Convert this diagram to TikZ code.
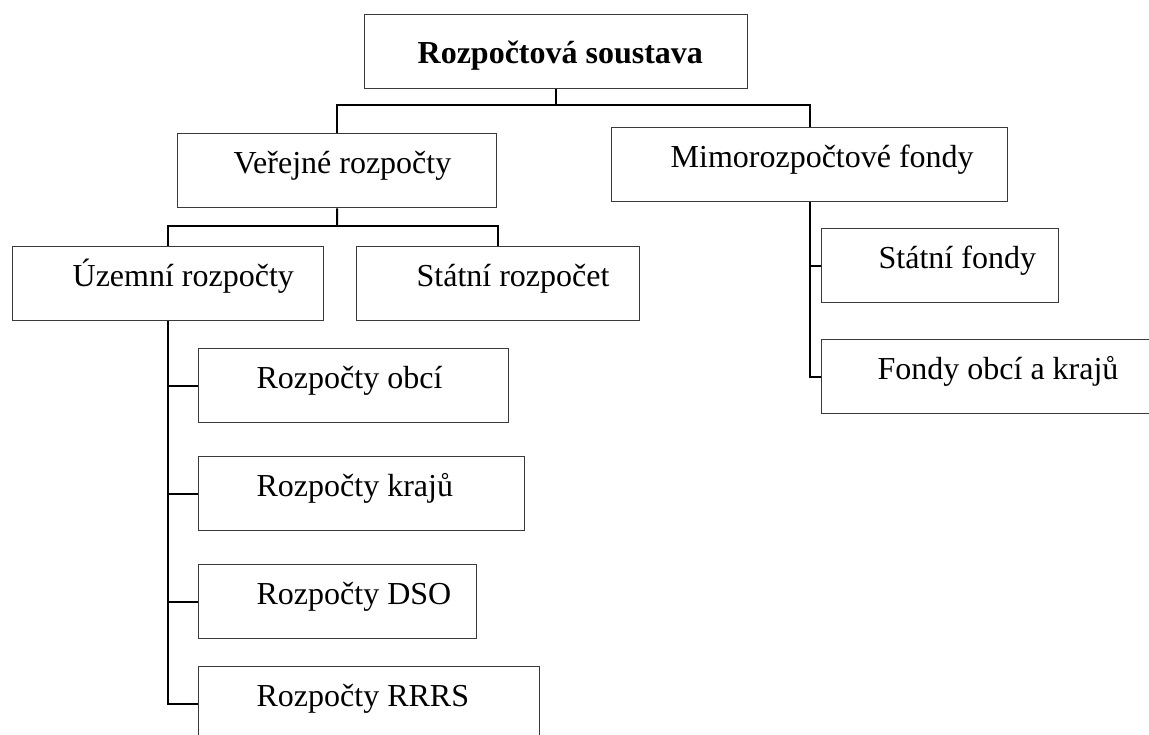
\documentclass[tikz,border=0pt]{standalone}
\usepackage{fontspec}
\setmainfont{Liberation Serif}
\definecolor{boxgray}{HTML}{3A3A3A}
\newcommand\bxtext[3]{\makebox[#1pt][l]{\hspace{#2pt}#3}}
\begin{document}
\begin{tikzpicture}[x=1pt,y=-1pt,
  box/.style={draw=boxgray, line width=1.3pt, inner sep=0pt, anchor=north west,
    text height=40pt, text depth=34pt, font=\fontsize{32}{38}\selectfont},
  titlebox/.style={box, text height=49pt, text depth=25pt, font=\fontsize{32}{38}\selectfont\bfseries},
  conn/.style={draw=black, line width=2pt}]
\useasboundingbox (0,0) rectangle (1149,735);

\node[titlebox] (top) at (364,14) {\bxtext{383}{53}{Rozpočtová soustava}};
\node[box] (ver) at (177,133) {\bxtext{319}{56}{Veřejné rozpočty}};
\node[box] (mimo) at (611,127) {\bxtext{396}{59}{Mimorozpočtové fondy}};
\node[box] (uz) at (12,246) {\bxtext{311}{60}{Územní rozpočty}};
\node[box] (sr) at (356,246) {\bxtext{283}{60}{Státní rozpočet}};
\node[box] (sf) at (821,228) {\bxtext{237}{57}{Státní fondy}};
\node[box] (fo) at (821,339) {\bxtext{334}{56}{Fondy obcí a krajů}};
\node[box] (obci) at (198,348) {\bxtext{310}{58}{Rozpočty obcí}};
\node[box] (kraju) at (198,456) {\bxtext{326}{58}{Rozpočty krajů}};
\node[box] (dso) at (198,564) {\bxtext{278}{58}{Rozpočty DSO}};
\node[box] (rrrs) at (198,666) {\bxtext{341}{58}{Rozpočty RRRS}};

\coordinate (j1) at (557,105);
\coordinate (j2) at (337,226);

\draw[conn] (top.south) -- (top.south |- j1);
\draw[conn] (ver.north) |- (j1) -| (mimo.north);
\draw[conn] (ver.south) -- (j2);
\draw[conn] (uz.north) |- (j2) -| (sr.north);
\draw[conn] (uz.south) |- (obci.west);
\draw[conn] (uz.south) |- (kraju.west);
\draw[conn] (uz.south) |- (dso.west);
\draw[conn] (uz.south) |- (rrrs.west);
\draw[conn] (mimo.south) |- (sf.west);
\draw[conn] (mimo.south) |- (fo.west);
\end{tikzpicture}
\end{document}
